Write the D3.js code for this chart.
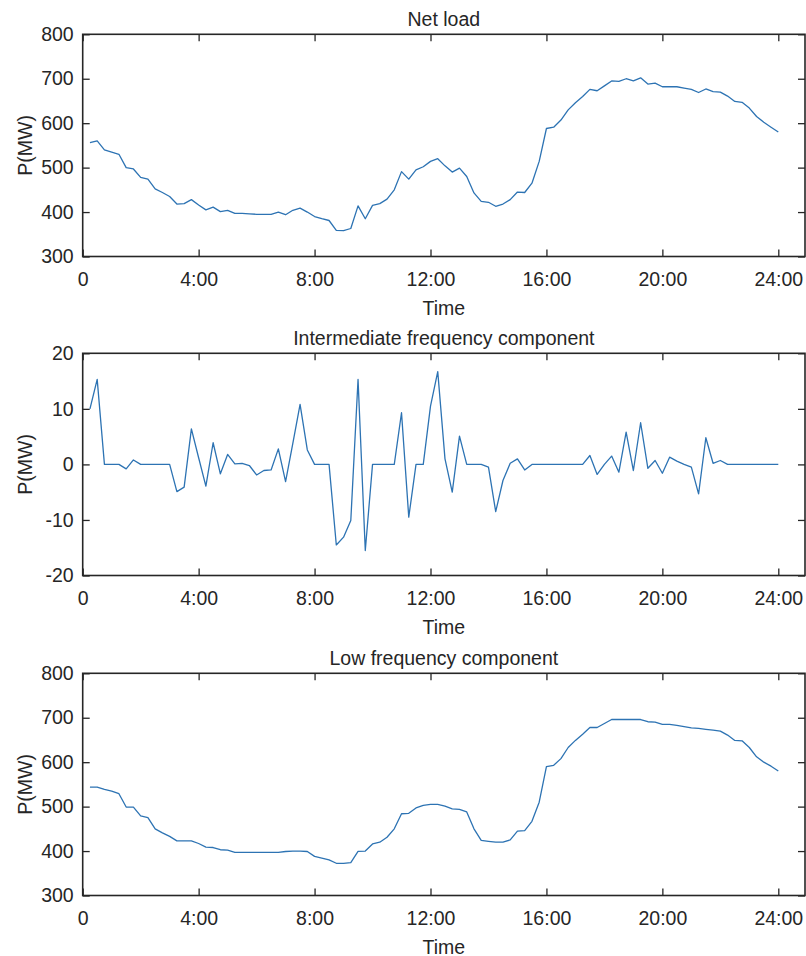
<!DOCTYPE html>
<html>
<head>
<meta charset="utf-8">
<script src="https://cdn.jsdelivr.net/npm/d3@7"></script>
<style>
  body { margin: 0; background: #fff; }
  svg text { font-family: "Liberation Sans", Arial, Helvetica, sans-serif; fill: #262626; }
</style>
</head>
<body>
<svg id="chart" width="806" height="956"></svg>
<script>
// time axis: 15-minute steps, index 1..96
const tickSteps = [0, 16, 32, 48, 64, 80, 96];
const tickLabels = ["0", "4:00", "8:00", "12:00", "16:00", "20:00", "24:00"];

// net load (MW)
const netLoad = [
  556, 560, 540, 535, 530, 500, 497, 478, 474, 452, 444, 435,
  418, 419, 428, 416, 405, 411, 401, 404, 397, 397, 396, 395,
  395, 395, 400, 394, 404, 409, 400, 390, 385, 381, 359, 358,
  363, 414, 385, 415, 419, 429, 450, 491, 474, 495, 502, 514,
  520, 504, 490, 499, 480, 443, 424, 422, 413, 418, 428, 445,
  444, 465, 514, 588, 591, 607, 630, 646, 660, 676, 673, 684,
  695, 694, 700, 695, 702, 688, 690, 682, 682, 682, 679, 676,
  669, 677, 671, 670, 661, 649, 647, 634, 615, 602, 591, 580
];

// intermediate frequency component (MW)
const interFreq = [
  10, 15.3, 0, 0, 0, -0.8, 0.8, 0, 0, 0, 0, 0,
  -4.9, -4.1, 6.4, 1.2, -3.9, 3.9, -1.7, 1.8, 0.1, 0.2, -0.2, -1.9,
  -1.1, -1, 2.8, -3.1, 3.8, 10.8, 2.6, 0, 0, 0, -14.5, -13.1,
  -10.1, 15.3, -15.5, 0, 0, 0, 0, 9.3, -9.5, 0, 0, 10.5,
  16.7, 1, -5, 5.1, 0, 0, 0, -0.5, -8.5, -2.9, 0.2, 1,
  -1, 0, 0, 0, 0, 0, 0, 0, 0, 1.6, -1.8, 0,
  1.5, -1.4, 5.8, -1.1, 7.5, -0.7, 0.7, -1.6, 1.3, 0.6, 0, -0.5,
  -5.3, 4.8, 0.2, 0.7, 0, 0, 0, 0, 0, 0, 0, 0
];

// low frequency component (MW)
const lowFreq = [
  544, 544, 539, 535, 529, 499, 499, 479, 475, 450, 441, 433,
  423, 423, 423, 417, 409, 408, 403, 402, 397, 397, 397, 397,
  397, 397, 397, 399, 400, 400, 399, 388, 384, 380, 372.5, 372.5,
  374, 399.5, 400, 416, 420, 431, 450, 484, 485, 497, 503, 505,
  505, 501, 495, 494, 488, 450, 424, 422, 420, 420, 425, 445,
  446, 467, 510, 590, 593, 608, 633, 649, 663, 678, 678, 687,
  696, 696, 696, 696, 696, 691, 690, 685, 685, 683, 680, 677,
  676, 674, 672, 670, 661, 649, 648, 633, 612, 600, 591, 580
];

const panelTitles = ["Net load", "Intermediate frequency component", "Low frequency component"];
const yDomains = [[300, 800], [-20, 20], [300, 800]];
const yTickValues = [[300, 400, 500, 600, 700, 800], [-20, -10, 0, 10, 20], [300, 400, 500, 600, 700, 800]];
const panelTops = [34.3, 353.3, 673.3];

const svg = d3.select('#chart');
const left = 82.7;
const boxWidth = 722.3;
const plotHeight = 222.2;
const axisColor = '#262626';
const lineColor = '#2d73b3';

function drawPanel(values, i) {
    const top = panelTops[i];
    const bottom = top + plotHeight;

    let x = d3.scaleLinear().domain([0, 96]).range([left, left + 695.6]);
    let y = d3.scaleLinear().domain(yDomains[i]).range([bottom, top]);

    let g = svg.append('g');

    // bottom axis with labels, ticks point inward
    let xAxis = g.append('g')
        .attr('transform', `translate(0,${bottom})`)
        .call(d3.axisBottom(x).tickValues(tickSteps).tickSize(-7).tickPadding(16)
            .tickFormat((d, j) => tickLabels[j]));
    // top axis mirror ticks
    let xTop = g.append('g')
        .attr('transform', `translate(0,${top})`)
        .call(d3.axisTop(x).tickValues(tickSteps).tickSize(-7).tickFormat(''));
    let yAxis = g.append('g')
        .attr('transform', `translate(${left},0)`)
        .call(d3.axisLeft(y).tickValues(yTickValues[i]).tickSize(-7).tickPadding(9)
            .tickFormat(d => String(d)));
    let yRight = g.append('g')
        .attr('transform', `translate(${left + boxWidth},0)`)
        .call(d3.axisRight(y).tickValues(yTickValues[i]).tickSize(-7).tickFormat(''));

    [xAxis, xTop, yAxis, yRight].forEach(a => {
        a.select('.domain').remove();
        a.selectAll('line').attr('stroke', axisColor).attr('stroke-width', 1.3);
        a.selectAll('text').attr('font-size', 19.5).attr('fill', axisColor)
            .style('font-family', '"Liberation Sans", Arial, sans-serif');
    });

    // axes box
    g.append('rect')
        .attr('x', left).attr('y', top)
        .attr('width', boxWidth).attr('height', plotHeight)
        .attr('fill', 'none').attr('stroke', axisColor).attr('stroke-width', 1.6);

    // the series
    let line = d3.line()
        .x((d, j) => x(j + 1))
        .y(d => y(d));
    g.append('path')
        .datum(values)
        .attr('d', line)
        .attr('fill', 'none')
        .attr('stroke', lineColor)
        .attr('stroke-width', 1.3)
        .attr('stroke-linejoin', 'round');

    // title
    g.append('text')
        .attr('x', left + boxWidth / 2).attr('y', top - 8)
        .attr('text-anchor', 'middle').attr('font-size', 19.5)
        .text(panelTitles[i]);

    // x label
    g.append('text')
        .attr('x', left + boxWidth / 2).attr('y', bottom + 58)
        .attr('text-anchor', 'middle').attr('font-size', 19.5)
        .text('Time');

    // y label
    g.append('text')
        .attr('transform', `translate(32,${(top + bottom) / 2}) rotate(-90)`)
        .attr('text-anchor', 'middle').attr('font-size', 19.5)
        .text('P(MW)');
}

drawPanel(netLoad, 0);
drawPanel(interFreq, 1);
drawPanel(lowFreq, 2);
</script>
</body>
</html>
